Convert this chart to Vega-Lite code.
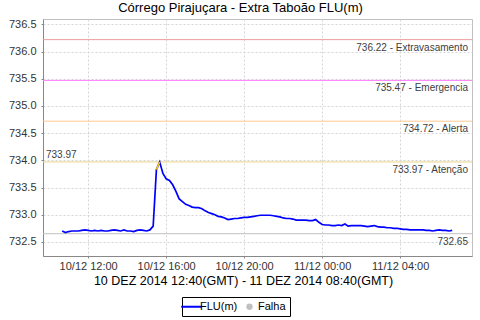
{
  "$schema": "https://vega.github.io/schema/vega-lite/v6.json",
  "width": 429,
  "height": 237,
  "autosize": "none",
  "padding": {"left": 43, "top": 19, "right": 8, "bottom": 64},
  "background": "white",
  "title": {"text": "Córrego Pirajuçara - Extra Taboão FLU(m)", "font": "Liberation Sans", "fontSize": 13, "fontWeight": "normal", "color": "#000000", "anchor": "middle", "dx": -17, "offset": 3},
  "config": {
    "view": {"stroke": "#c0c0c0"},
    "font": "Liberation Sans",
    "axis": {"labelFont": "Liberation Sans", "labelColor": "#333333", "labelFontSize": 11, "labelOverlap": false, "tickSize": 2, "tickColor": "#888888", "domainColor": "#888888", "gridColor": "#d4d4d4", "gridDash": [2, 2], "titleFont": "Liberation Sans", "titleFontWeight": "normal", "titleColor": "#000000", "titleFontSize": 12.5}
  },
  "datasets": {
    "flu": [
      {"t": "2014-12-10T10:40:00Z", "v": 732.70},
      {"t": "2014-12-10T10:50:00Z", "v": 732.67},
      {"t": "2014-12-10T11:00:00Z", "v": 732.69},
      {"t": "2014-12-10T11:10:00Z", "v": 732.70},
      {"t": "2014-12-10T11:20:00Z", "v": 732.70},
      {"t": "2014-12-10T11:30:00Z", "v": 732.70},
      {"t": "2014-12-10T11:40:00Z", "v": 732.71},
      {"t": "2014-12-10T11:50:00Z", "v": 732.72},
      {"t": "2014-12-10T12:00:00Z", "v": 732.71},
      {"t": "2014-12-10T12:10:00Z", "v": 732.70},
      {"t": "2014-12-10T12:20:00Z", "v": 732.71},
      {"t": "2014-12-10T12:30:00Z", "v": 732.70},
      {"t": "2014-12-10T12:40:00Z", "v": 732.71},
      {"t": "2014-12-10T12:50:00Z", "v": 732.70},
      {"t": "2014-12-10T13:00:00Z", "v": 732.70},
      {"t": "2014-12-10T13:10:00Z", "v": 732.71},
      {"t": "2014-12-10T13:20:00Z", "v": 732.72},
      {"t": "2014-12-10T13:30:00Z", "v": 732.71},
      {"t": "2014-12-10T13:40:00Z", "v": 732.70},
      {"t": "2014-12-10T13:50:00Z", "v": 732.72},
      {"t": "2014-12-10T14:00:00Z", "v": 732.70},
      {"t": "2014-12-10T14:10:00Z", "v": 732.70},
      {"t": "2014-12-10T14:20:00Z", "v": 732.69},
      {"t": "2014-12-10T14:30:00Z", "v": 732.71},
      {"t": "2014-12-10T14:40:00Z", "v": 732.72},
      {"t": "2014-12-10T14:50:00Z", "v": 732.71},
      {"t": "2014-12-10T15:00:00Z", "v": 732.70},
      {"t": "2014-12-10T15:10:00Z", "v": 732.72},
      {"t": "2014-12-10T15:20:00Z", "v": 732.79},
      {"t": "2014-12-10T15:30:00Z", "v": 733.83},
      {"t": "2014-12-10T15:40:00Z", "v": 733.97},
      {"t": "2014-12-10T15:50:00Z", "v": 733.76},
      {"t": "2014-12-10T16:00:00Z", "v": 733.66},
      {"t": "2014-12-10T16:10:00Z", "v": 733.63},
      {"t": "2014-12-10T16:20:00Z", "v": 733.55},
      {"t": "2014-12-10T16:30:00Z", "v": 733.43},
      {"t": "2014-12-10T16:40:00Z", "v": 733.29},
      {"t": "2014-12-10T16:50:00Z", "v": 733.24},
      {"t": "2014-12-10T17:00:00Z", "v": 733.19},
      {"t": "2014-12-10T17:10:00Z", "v": 733.17},
      {"t": "2014-12-10T17:20:00Z", "v": 733.14},
      {"t": "2014-12-10T17:30:00Z", "v": 733.13},
      {"t": "2014-12-10T17:40:00Z", "v": 733.13},
      {"t": "2014-12-10T17:50:00Z", "v": 733.11},
      {"t": "2014-12-10T18:00:00Z", "v": 733.07},
      {"t": "2014-12-10T18:10:00Z", "v": 733.04},
      {"t": "2014-12-10T18:20:00Z", "v": 733.02},
      {"t": "2014-12-10T18:30:00Z", "v": 733.00},
      {"t": "2014-12-10T18:40:00Z", "v": 732.97},
      {"t": "2014-12-10T18:50:00Z", "v": 732.96},
      {"t": "2014-12-10T19:00:00Z", "v": 732.94},
      {"t": "2014-12-10T19:10:00Z", "v": 732.91},
      {"t": "2014-12-10T19:20:00Z", "v": 732.92},
      {"t": "2014-12-10T19:30:00Z", "v": 732.93},
      {"t": "2014-12-10T19:40:00Z", "v": 732.93},
      {"t": "2014-12-10T19:50:00Z", "v": 732.94},
      {"t": "2014-12-10T20:00:00Z", "v": 732.95},
      {"t": "2014-12-10T20:10:00Z", "v": 732.95},
      {"t": "2014-12-10T20:20:00Z", "v": 732.96},
      {"t": "2014-12-10T20:30:00Z", "v": 732.97},
      {"t": "2014-12-10T20:40:00Z", "v": 732.98},
      {"t": "2014-12-10T20:50:00Z", "v": 732.99},
      {"t": "2014-12-10T21:00:00Z", "v": 732.99},
      {"t": "2014-12-10T21:10:00Z", "v": 732.99},
      {"t": "2014-12-10T21:20:00Z", "v": 732.99},
      {"t": "2014-12-10T21:30:00Z", "v": 732.98},
      {"t": "2014-12-10T21:40:00Z", "v": 732.97},
      {"t": "2014-12-10T21:50:00Z", "v": 732.96},
      {"t": "2014-12-10T22:00:00Z", "v": 732.94},
      {"t": "2014-12-10T22:10:00Z", "v": 732.93},
      {"t": "2014-12-10T22:20:00Z", "v": 732.93},
      {"t": "2014-12-10T22:30:00Z", "v": 732.92},
      {"t": "2014-12-10T22:40:00Z", "v": 732.90},
      {"t": "2014-12-10T22:50:00Z", "v": 732.90},
      {"t": "2014-12-10T23:00:00Z", "v": 732.90},
      {"t": "2014-12-10T23:10:00Z", "v": 732.90},
      {"t": "2014-12-10T23:20:00Z", "v": 732.89},
      {"t": "2014-12-10T23:30:00Z", "v": 732.89},
      {"t": "2014-12-10T23:40:00Z", "v": 732.91},
      {"t": "2014-12-10T23:50:00Z", "v": 732.86},
      {"t": "2014-12-11T00:00:00Z", "v": 732.82},
      {"t": "2014-12-11T00:10:00Z", "v": 732.81},
      {"t": "2014-12-11T00:20:00Z", "v": 732.81},
      {"t": "2014-12-11T00:30:00Z", "v": 732.80},
      {"t": "2014-12-11T00:40:00Z", "v": 732.80},
      {"t": "2014-12-11T00:50:00Z", "v": 732.81},
      {"t": "2014-12-11T01:00:00Z", "v": 732.80},
      {"t": "2014-12-11T01:10:00Z", "v": 732.83},
      {"t": "2014-12-11T01:20:00Z", "v": 732.79},
      {"t": "2014-12-11T01:30:00Z", "v": 732.80},
      {"t": "2014-12-11T01:40:00Z", "v": 732.80},
      {"t": "2014-12-11T01:50:00Z", "v": 732.80},
      {"t": "2014-12-11T02:00:00Z", "v": 732.80},
      {"t": "2014-12-11T02:10:00Z", "v": 732.79},
      {"t": "2014-12-11T02:20:00Z", "v": 732.78},
      {"t": "2014-12-11T02:30:00Z", "v": 732.79},
      {"t": "2014-12-11T02:40:00Z", "v": 732.80},
      {"t": "2014-12-11T02:50:00Z", "v": 732.78},
      {"t": "2014-12-11T03:00:00Z", "v": 732.77},
      {"t": "2014-12-11T03:10:00Z", "v": 732.77},
      {"t": "2014-12-11T03:20:00Z", "v": 732.76},
      {"t": "2014-12-11T03:30:00Z", "v": 732.76},
      {"t": "2014-12-11T03:40:00Z", "v": 732.75},
      {"t": "2014-12-11T03:50:00Z", "v": 732.75},
      {"t": "2014-12-11T04:00:00Z", "v": 732.74},
      {"t": "2014-12-11T04:10:00Z", "v": 732.73},
      {"t": "2014-12-11T04:20:00Z", "v": 732.73},
      {"t": "2014-12-11T04:30:00Z", "v": 732.72},
      {"t": "2014-12-11T04:40:00Z", "v": 732.72},
      {"t": "2014-12-11T04:50:00Z", "v": 732.72},
      {"t": "2014-12-11T05:00:00Z", "v": 732.72},
      {"t": "2014-12-11T05:10:00Z", "v": 732.72},
      {"t": "2014-12-11T05:20:00Z", "v": 732.71},
      {"t": "2014-12-11T05:30:00Z", "v": 732.71},
      {"t": "2014-12-11T05:40:00Z", "v": 732.70},
      {"t": "2014-12-11T05:50:00Z", "v": 732.71},
      {"t": "2014-12-11T06:00:00Z", "v": 732.72},
      {"t": "2014-12-11T06:10:00Z", "v": 732.71},
      {"t": "2014-12-11T06:20:00Z", "v": 732.71},
      {"t": "2014-12-11T06:30:00Z", "v": 732.70},
      {"t": "2014-12-11T06:40:00Z", "v": 732.71}
    ],
    "niveis": [
      {"v": 736.22, "nivel": "Extravasamento", "label": "736.22 - Extravasamento"},
      {"v": 735.47, "nivel": "Emergencia", "label": "735.47 - Emergencia"},
      {"v": 734.72, "nivel": "Alerta", "label": "734.72 - Alerta"},
      {"v": 733.97, "nivel": "Atenção", "label": "733.97 - Atenção"},
      {"v": 732.65, "nivel": "Mínimo", "label": "732.65"}
    ]
  },
  "layer": [
    {
      "data": {"name": "niveis"},
      "mark": {"type": "rule", "strokeWidth": 1},
      "encoding": {
        "y": {"field": "v", "type": "quantitative", "scale": {"domain": [732.24, 736.6], "zero": false, "nice": false},
          "axis": {"values": [732.5, 733.0, 733.5, 734.0, 734.5, 735.0, 735.5, 736.0, 736.5], "tickCount": 12, "format": ".1f", "title": null, "labelPadding": 5, "grid": true}},
        "stroke": {"field": "nivel", "type": "nominal", "legend": null,
          "scale": {"domain": ["Extravasamento", "Emergencia", "Alerta", "Atenção", "Mínimo"], "range": ["#ee9a9a", "#ff80ff", "#ffc890", "#e8d480", "#c0c0c0"]}}
      }
    },
    {
      "data": {"name": "niveis"},
      "mark": {"type": "text", "align": "right", "baseline": "alphabetic", "dx": -4, "dy": 11, "fontSize": 10, "color": "#404040", "font": "Liberation Sans"},
      "encoding": {
        "x": {"datum": {"year": 2014, "month": 12, "date": 11, "hours": 7, "minutes": 41, "utc": true}, "type": "temporal"},
        "y": {"field": "v", "type": "quantitative"},
        "text": {"field": "label", "type": "nominal"}
      }
    },
    {
      "data": {"name": "niveis"},
      "transform": [{"filter": "datum.nivel === 'Atenção'"}],
      "mark": {"type": "text", "align": "left", "baseline": "alphabetic", "dx": 3, "dy": -4, "fontSize": 10, "color": "#404040", "font": "Liberation Sans"},
      "encoding": {
        "x": {"datum": {"year": 2014, "month": 12, "date": 10, "hours": 9, "minutes": 41, "utc": true}, "type": "temporal"},
        "y": {"field": "v", "type": "quantitative"},
        "text": {"field": "v", "type": "quantitative", "format": ".2f"}
      }
    },
    {
      "data": {"name": "flu"},
      "mark": {"type": "line", "strokeWidth": 1.7},
      "encoding": {
        "x": {"field": "t", "type": "temporal",
          "scale": {"type": "utc", "domain": [{"year": 2014, "month": 12, "date": 10, "hours": 9, "minutes": 41, "utc": true}, {"year": 2014, "month": 12, "date": 11, "hours": 7, "minutes": 41, "utc": true}], "nice": false},
          "axis": {"values": [
            {"year": 2014, "month": 12, "date": 10, "hours": 12, "utc": true},
            {"year": 2014, "month": 12, "date": 10, "hours": 16, "utc": true},
            {"year": 2014, "month": 12, "date": 10, "hours": 20, "utc": true},
            {"year": 2014, "month": 12, "date": 11, "hours": 0, "utc": true},
            {"year": 2014, "month": 12, "date": 11, "hours": 4, "utc": true}],
            "tickCount": 10, "format": "%d/%m %H:%M", "labelPadding": 2, "titlePadding": 3, "grid": true, "titleX": 200, "titleAlign": "center",
            "title": "10 DEZ 2014 12:40(GMT) - 11 DEZ 2014 08:40(GMT)"}},
        "y": {"field": "v", "type": "quantitative"},
        "color": {"datum": "FLU(m)", "type": "nominal",
          "scale": {"domain": ["FLU(m)", "Falha"], "range": ["#0000ff", "#c0c0c0"]},
          "legend": {"title": null, "orient": "none", "direction": "horizontal", "legendX": 139, "legendY": 278,
            "strokeColor": "#000000", "fillColor": "#ffffff", "padding": 4, "labelFontSize": 11, "labelFont": "Liberation Sans", "labelColor": "#000000",
            "symbolType": "stroke", "symbolSize": 420, "symbolStrokeWidth": 2, "labelOffset": 3, "columnPadding": 6,
            "encoding": {"symbols": {
              "shape": {"value": {"expr": "datum.value === 'Falha' ? 'circle' : 'stroke'"}},
              "fill": {"value": {"expr": "datum.value === 'Falha' ? '#c0c0c0' : 'transparent'"}},
              "size": {"value": {"expr": "datum.value === 'Falha' ? 40 : 420"}},
              "strokeWidth": {"value": {"expr": "datum.value === 'Falha' ? 0 : 2"}}}}}}
      }
    },
    {
      "data": {"name": "flu"},
      "transform": [{"filter": "datum.v > 733.8"}],
      "mark": {"type": "line", "strokeWidth": 1.7, "color": "#f5c800"},
      "encoding": {
        "x": {"field": "t", "type": "temporal"},
        "y": {"field": "v", "type": "quantitative"}
      }
    }
  ]
}
